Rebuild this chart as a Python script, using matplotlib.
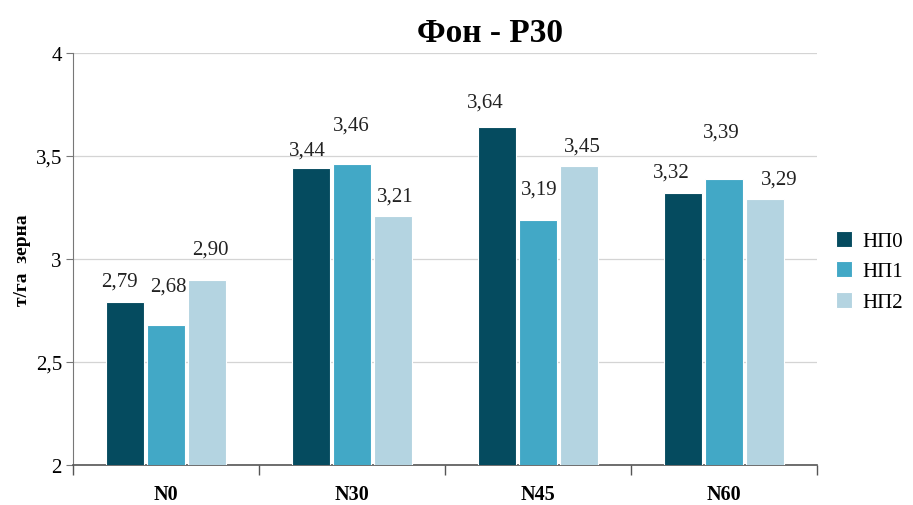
import numpy as np
import matplotlib; matplotlib.use('Agg')
import matplotlib.pyplot as plt

categories = ['N0', 'N30', 'N45', 'N60']
series = ['НП0', 'НП1', 'НП2']
np0 = [2.79, 3.44, 3.64, 3.32]
np1 = [2.68, 3.46, 3.19, 3.39]
np2 = [2.90, 3.21, 3.45, 3.29]
yticks = [2, 2.5, 3, 3.5, 4]

colors = ['#054b5f', '#42a8c6', '#b4d4e1']
# label offsets in pixels (dx, dy) relative to bar top centre, as in the source
offsets = [
    [(-6, 21), (-4, 18), (-12, 25), (-12, 21)],
    [(2, 39), (-1, 39), (1, 31), (-3, 47)],
    [(3, 31), (2, 20), (3, 20), (14, 20)],
]

plt.rcParams['font.family'] = ['Liberation Serif', 'DejaVu Serif']
fig = plt.figure(figsize=(9.13, 5.06), dpi=100)
ax = fig.add_axes([73/913, 40/506, 744/913, 412/506])

x = np.arange(len(categories))
w = 0.22
for i, (vals, c) in enumerate(zip([np0, np1, np2], colors)):
    pos = x + (i - 1) * w
    ax.bar(pos, vals, width=w * 0.93, color=c, edgecolor='white', linewidth=0.8,
           label=series[i], zorder=3)
    for p, v, off in zip(pos, vals, offsets[i]):
        ax.annotate(f'{v:.2f}'.replace('.', ','), (p, v), xytext=off,
                    textcoords='offset pixels', ha='center', va='center',
                    fontsize=15, color='#222222')

ax.set_ylim(2, 4)
ax.set_xlim(-0.5, len(categories) - 0.5)
ax.set_yticks(yticks)
ax.set_yticklabels([f'{t:g}'.replace('.', ',') for t in yticks], fontsize=15)
ax.yaxis.grid(True, color='#d4d4d4', linewidth=0.9, zorder=0)
ax.set_xticks(np.arange(len(categories) + 1) - 0.5)
ax.set_xticklabels([])
ax.set_xticks(x, minor=True)
ax.set_xticklabels(categories, minor=True, fontsize=14.5, fontweight='bold')
ax.tick_params(axis='x', which='minor', length=0, pad=14)
ax.tick_params(axis='x', which='major', length=7, color='#555555', width=1)
ax.tick_params(axis='y', length=5, color='#777777', pad=3)
for s in ['top', 'right']:
    ax.spines[s].set_visible(False)
ax.spines['left'].set_color('#777777')
ax.spines['bottom'].set_color('#555555')
ax.spines['bottom'].set_linewidth(1.2)

ax.set_ylabel('т/га  зерна', fontsize=14, fontweight='bold', labelpad=3)
ax.set_title('Фон - Р30', fontsize=24, fontweight='bold', pad=9, x=0.56)

ax.legend(loc='center left', bbox_to_anchor=(1.0, 0.47), frameon=False,
          fontsize=15, handlelength=0.8, handleheight=0.8, labelspacing=0.5,
          handletextpad=0.5)

fig.savefig('out.png', dpi=100)
